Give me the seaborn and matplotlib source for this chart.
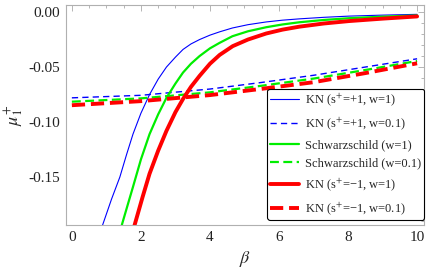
import matplotlib
matplotlib.use("Agg")
import matplotlib.pyplot as plt
import seaborn as sns
from matplotlib.ticker import MultipleLocator, FormatStrFormatter

# ---- data ----
beta_kn_p_w1 = [0.82, 0.93, 1.15, 1.39, 1.58, 1.77, 2.0, 2.25, 2.5, 2.74, 3.0, 3.22, 3.45, 3.70,
                4.0, 4.28, 4.65, 5.1, 5.63, 6.1, 6.59, 7.3, 8.03, 9.0, 10.0]
mu_kn_p_w1 = [-0.200, -0.190, -0.170, -0.150, -0.130, -0.111, -0.092, -0.075, -0.061, -0.050,
              -0.041, -0.034, -0.029, -0.025, -0.021, -0.018, -0.0145, -0.0115, -0.0090,
              -0.0074, -0.0062, -0.0048, -0.0037, -0.0028, -0.0021]

beta_sch_w1 = [1.39, 1.48, 1.62, 1.77, 2.0, 2.25, 2.5, 2.74, 3.0, 3.22, 3.45, 3.70, 4.0, 4.28,
               4.65, 5.1, 5.63, 6.1, 6.59, 7.3, 8.03, 9.0, 10.0]
mu_sch_w1 = [-0.200, -0.190, -0.175, -0.159, -0.134, -0.111, -0.093, -0.078, -0.065, -0.055,
             -0.047, -0.040, -0.033, -0.028, -0.022, -0.0175, -0.0138, -0.0113, -0.0093,
             -0.0072, -0.0056, -0.0042, -0.0031]

beta_kn_m_w1 = [1.76, 1.85, 2.05, 2.25, 2.5, 2.74, 3.0, 3.22, 3.45, 3.70, 4.0, 4.28, 4.66, 5.1,
                5.63, 6.1, 6.59, 7.3, 8.03, 9.0, 10.0]
mu_kn_m_w1 = [-0.200, -0.190, -0.168, -0.147, -0.126, -0.108, -0.091, -0.079, -0.068, -0.058,
              -0.047, -0.039, -0.031, -0.025, -0.0195, -0.016, -0.0133, -0.0104, -0.0082,
              -0.0060, -0.0040]

beta_w01 = [0.0, 2.0, 4.0, 5.5, 7.0, 8.5, 10.0]
mu_kn_p_w01 = [-0.0780, -0.0757, -0.0700, -0.0640, -0.0575, -0.0500, -0.0425]
mu_sch_w01 = [-0.0815, -0.0785, -0.0730, -0.0670, -0.0605, -0.0527, -0.0445]
mu_kn_m_w01 = [-0.0847, -0.0810, -0.0755, -0.0698, -0.0638, -0.0555, -0.0466]

labels = ["KN (s$^{+}$=+1, w=1)", "KN (s$^{+}$=+1, w=0.1)",
          "Schwarzschild (w=1)", "Schwarzschild (w=0.1)",
          "KN (s$^{+}$=\u22121, w=1)", "KN (s$^{+}$=\u22121, w=0.1)"]

sns.set_theme(style="white")
plt.rcParams['font.family'] = ['Liberation Serif', 'DejaVu Serif']
plt.rcParams['mathtext.fontset'] = 'stix'

fig = plt.figure(figsize=(4.26, 2.69), dpi=100)
ax = fig.add_axes([66/426, 1-225/269, (424-66)/426, (225-5)/269])

blue, green, red = '#0000ff', '#00ee00', '#ff0000'
series = [
    (beta_kn_p_w1, mu_kn_p_w1, blue, 0.8, '-'),
    (beta_w01, mu_kn_p_w01, blue, 1.0, (0, (4.5, 3))),
    (beta_sch_w1, mu_sch_w1, green, 1.6, '-'),
    (beta_w01, mu_sch_w01, green, 1.6, (0, (4, 2))),
    (beta_kn_m_w1, mu_kn_m_w1, red, 2.8, '-'),
    (beta_w01, mu_kn_m_w01, red, 2.8, (0, (3.4, 1.5))),
]
for (x, y, c, lw, ls), lab in zip(series, labels):
    sns.lineplot(x=x, y=y, color=c, linewidth=lw, linestyle=ls, ax=ax,
                 sort=False, label=lab)

ax.set_xlim(-0.17, 10.2)
ax.set_ylim(-0.1936, 0.0064)
ax.xaxis.set_major_locator(MultipleLocator(2))
ax.xaxis.set_minor_locator(MultipleLocator(0.5))
ax.yaxis.set_major_locator(MultipleLocator(0.05))
ax.yaxis.set_minor_locator(MultipleLocator(0.01))
ax.yaxis.set_major_formatter(FormatStrFormatter('%.2f'))
ax.tick_params(which='both', direction='in', top=True, right=True,
               color='#aaaaaa', labelsize=11, labelcolor='#222222', width=0.6)
ax.tick_params(which='major', length=4, pad=4)
ax.tick_params(which='minor', length=2)
for s in ax.spines.values():
    s.set_color('#b0b0b0')
    s.set_linewidth(0.8)

ax.set_xlabel(r'$\beta$', fontsize=13, labelpad=4)
ax.set_ylabel(r'$\mu_1^{+}$', fontsize=13, labelpad=2)

leg = ax.legend(loc='lower right', bbox_to_anchor=(1.0, 0.023), borderaxespad=0,
                fontsize=9, frameon=True, fancybox=True, edgecolor='black',
                framealpha=1, handlelength=2.3, handletextpad=0.5,
                labelspacing=0.55, borderpad=0.22)
leg.get_frame().set_linewidth(0.8)

fig.savefig('out.png', dpi=100)
